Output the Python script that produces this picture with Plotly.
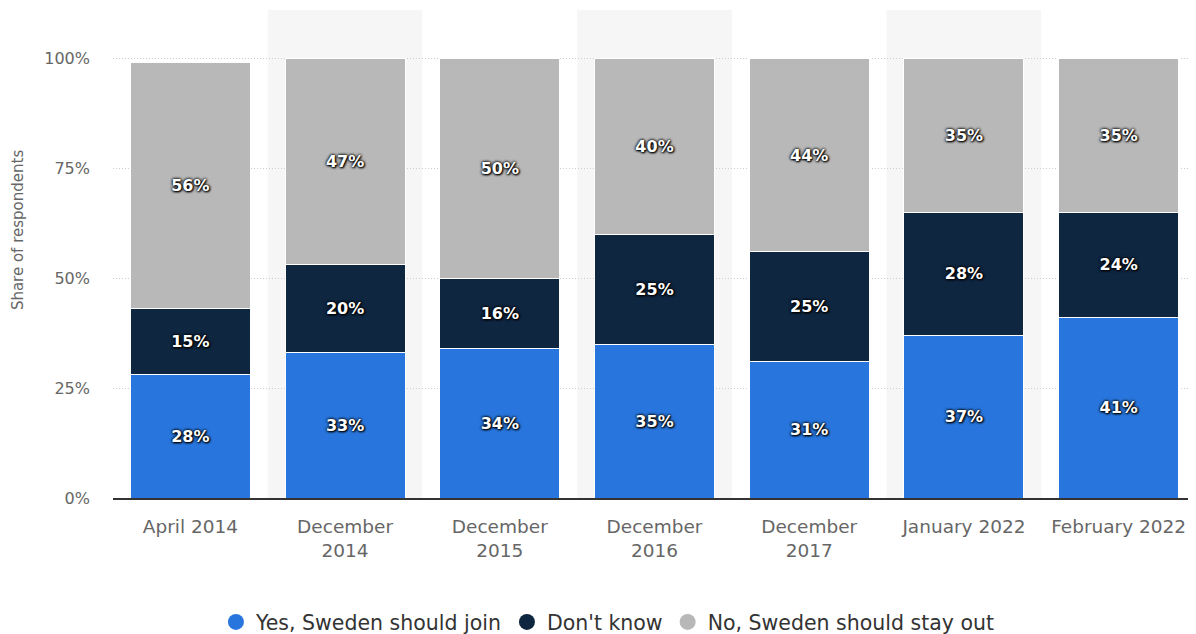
import plotly.graph_objects as go

categories = ["April 2014", "December<br>2014", "December<br>2015", "December<br>2016",
              "December<br>2017", "January 2022", "February 2022"]
yes_join = [28, 33, 34, 35, 31, 37, 41]
dont_know = [15, 20, 16, 25, 25, 28, 24]
stay_out = [56, 47, 50, 40, 44, 35, 35]

series = [
    ("Yes, Sweden should join", yes_join, "#2876dd"),
    ("Don't know", dont_know, "#0f2640"),
    ("No, Sweden should stay out", stay_out, "#b8b8b8"),
]

FONT = "DejaVu Sans"
shadow = "0px 0px 3px #000, 0px 0px 3px #000, 1px 1px 2px #000"

fig = go.Figure()
for name, vals, color in series:
    fig.add_trace(go.Bar(
        x=categories, y=vals, name=name, showlegend=False,
        marker=dict(color=color, line=dict(color="white", width=1)),
        text=[f"{v}%" for v in vals], textposition="inside",
        insidetextanchor="middle", textangle=0,
        textfont=dict(family=FONT, size=16, color="white", weight="bold", shadow=shadow),
        hoverinfo="skip",
    ))
for name, vals, color in series:
    fig.add_trace(go.Scatter(
        x=[None], y=[None], mode="markers", name=name,
        marker=dict(symbol="circle", size=17, color=color),
    ))

shapes = []
for i in range(1, len(categories), 2):
    shapes.append(dict(type="rect", xref="x", yref="paper", x0=i - 0.5, x1=i + 0.5,
                       y0=0, y1=1, fillcolor="#f6f6f6", line=dict(width=0), layer="below"))

fig.update_layout(
    barmode="stack", bargap=0.225,
    width=1188, height=626,
    margin=dict(l=105, r=0, t=2, b=136),
    plot_bgcolor="white", paper_bgcolor="white",
    shapes=shapes,
    font=dict(family=FONT, color="#666"),
    legend=dict(orientation="h", x=0.505, xanchor="center", xref="container",
                y=0.019, yanchor="middle", yref="container",
                font=dict(family=FONT, size=20.5, color="#333"), itemsizing="trace",
                traceorder="normal"),
    xaxis=dict(tickfont=dict(size=18.5, color="#666"), showline=True, linecolor="#333",
               linewidth=2, ticks="", range=[-0.5, 6.5], automargin=False,
               ticklabelstandoff=11),
    yaxis=dict(range=[0, 111], tickvals=[0, 25, 50, 75, 100],
               ticktext=["0%", "25%", "50%", "75%", "100%"],
               tickfont=dict(size=16, color="#666"), showgrid=True, gridcolor="#cccccc",
               griddash="1px,2px", gridwidth=1, zeroline=False, ticks="", ticklen=0,
               ticklabelstandoff=22, automargin=False),
    annotations=[dict(text="Share of respondents", xref="paper", yref="paper",
                      x=-0.0877, y=0.549, xanchor="center", yanchor="middle",
                      textangle=-90, showarrow=False,
                      font=dict(family=FONT, size=15, color="#666"))],
)

fig.write_html("out.html")
